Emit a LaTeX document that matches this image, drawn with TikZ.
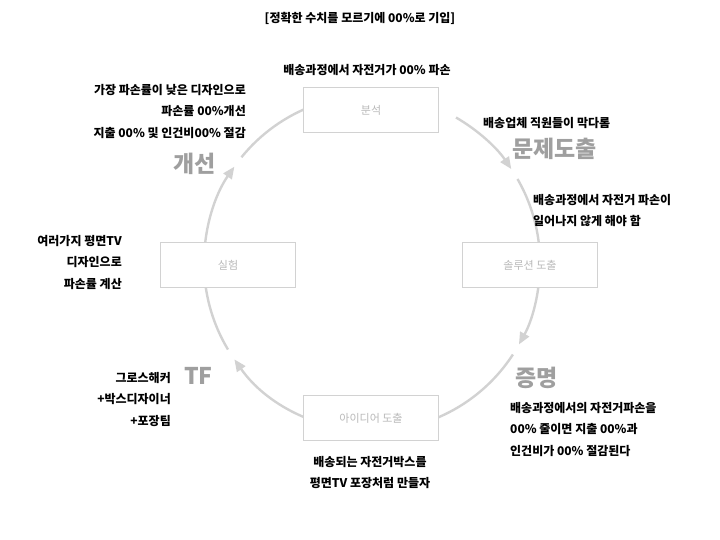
\documentclass[tikz,border=0pt]{standalone}
\usepackage{fontspec}
\setmainfont{Noto Sans CJK KR}
\newfontfamily\kb{Noto Sans CJK KR Black}
\usetikzlibrary{arrows.meta}
\begin{document}
\begin{tikzpicture}[x=1pt,y=-1pt,
  txt/.style={font=\bfseries\fontsize{12}{21.5}\selectfont,text=black,inner sep=0pt},
  big/.style={font=\kb\fontsize{23}{24}\selectfont,text=gray!75,inner sep=0pt},
  stage/.style={draw=gray!35,line width=1.2pt,fill=white,minimum width=135pt,minimum height=45pt,text=gray!55,font=\fontsize{11}{12}\selectfont},
  arc/.style={draw=gray!35,line width=2.4pt},
  arr/.style={arc,-{Triangle[width=10pt,length=12pt]}}]
\useasboundingbox (0,0) rectangle (720,540);
\coordinate (c) at (372,263);
\draw[arr] ([shift={(-60:168)}]c) arc[start angle=-60,end angle=-34,radius=168];
\draw[arc] ([shift={(-30:168)}]c) arc[start angle=-30,end angle=5,radius=168];
\draw[arr] ([shift={(0:168)}]c) arc[start angle=0,end angle=29,radius=168];
\draw[arc] ([shift={(33:168)}]c) arc[start angle=33,end angle=70,radius=168];
\draw[arr] ([shift={(90:168)}]c) arc[start angle=90,end angle=145,radius=168];
\draw[arc] ([shift={(149:168)}]c) arc[start angle=149,end angle=185,radius=168];
\draw[arr] ([shift={(180:168)}]c) arc[start angle=180,end angle=215,radius=168];
\draw[arc] ([shift={(219:168)}]c) arc[start angle=219,end angle=250,radius=168];
\node[stage] (s1) at (371,110) {분석};
\node[stage] (s2) at (530,265) {솔루션 도출};
\node[stage] (s3) at (371,418) {아이디어 도출};
\node[stage] (s4) at (228,265) {실험};
\node[txt] (t0) at (360,18) {[정확한 수치를 모르기에 00\%로 기입]};
\node[txt] (t1) at (367,70) {배송과정에서 자전거가 00\% 파손};
\node[txt,align=right,anchor=north east] (t2) at (246,84) {가장 파손률이 낮은 디자인으로\\파손률 00\%개선\\지출 00\% 및 인건비00\% 절감};
\node[big,anchor=east] (g1) at (216,164) {개선};
\node[txt,anchor=west] (t3) at (483,123) {배송업체 직원들이 막다롬};
\node[big,anchor=west] (g2) at (512,149) {문제도출};
\node[txt,align=left,anchor=north west] (t4) at (533,194) {배송과정에서 자전거 파손이\\일어나지 않게 해야 함};
\node[txt,align=right,anchor=north east] (t5) at (122,235) {여러가지 평면TV\\디자인으로\\파손률 계산};
\node[txt,align=right,anchor=north east] (t6) at (171,372) {그로스해커\\+박스디자이너\\+포장팀};
\node[big,anchor=west] (g3) at (184,376) {TF};
\node[big,anchor=west] (g4) at (515,378) {증명};
\node[txt,align=left,anchor=north west] (t7) at (510,402) {배송과정에서의 자전거파손을\\00\% 줄이면 지출 00\%과\\인건비가 00\% 절감된다};
\node[txt,align=center,anchor=north] (t8) at (370,456) {배송되는 자전거박스를\\평면TV 포장처럼 만들자};
\end{tikzpicture}
\end{document}
